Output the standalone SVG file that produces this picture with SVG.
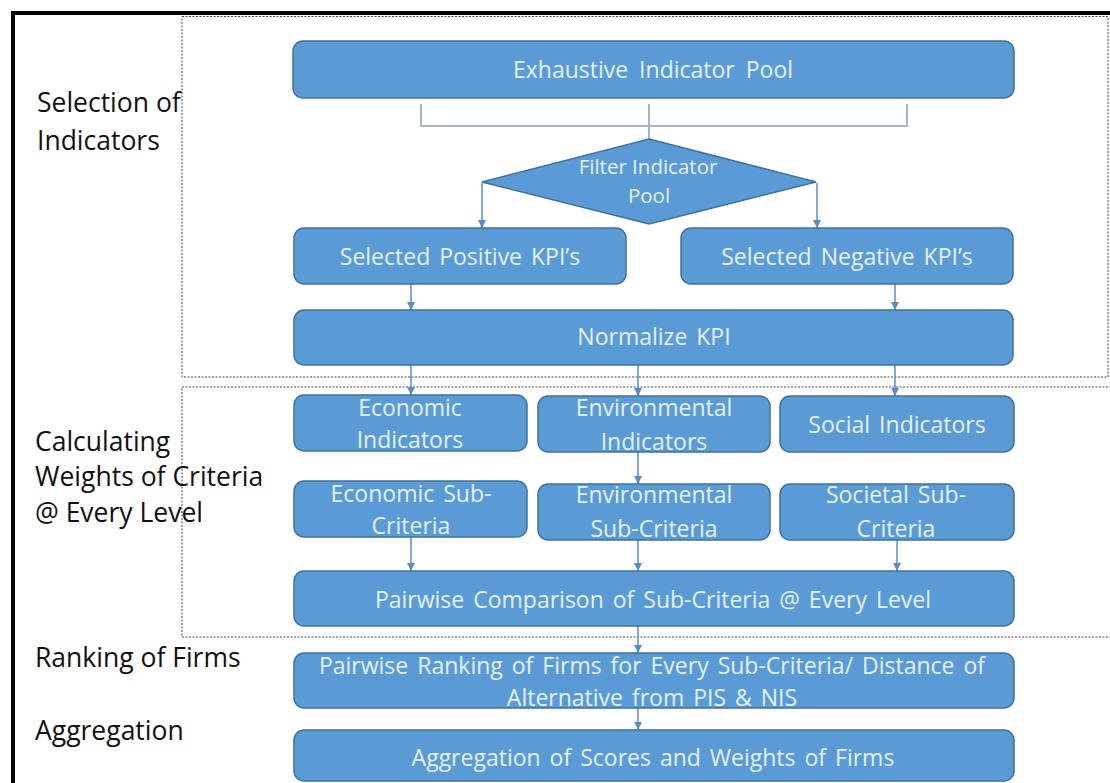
<svg xmlns="http://www.w3.org/2000/svg" width="1110" height="783" viewBox="0 0 1110 783">
<style>
.box{fill:#5b9bd5;stroke:#41719c;stroke-width:1.5}
.bt{font-family:"Open Sans","Liberation Sans",sans-serif;font-size:23px;fill:#e3f1f9;text-anchor:middle;word-spacing:3px}
.lab{font-family:"Open Sans","Liberation Sans",sans-serif;font-size:26.5px;fill:#111}
.con{stroke:#5a8bc4;stroke-width:1.5;fill:none}
.brk{stroke:#a3b5c8;stroke-width:2;fill:none}
.dash{fill:none;stroke:#444;stroke-width:1;stroke-dasharray:2 1.5}
</style>
<defs>
<marker id="ah" markerWidth="10" markerHeight="10" refX="8" refY="5" orient="auto" markerUnits="userSpaceOnUse">
<path d="M0,1 L8,5 L0,9 Z" fill="#5a8bc4"/>
</marker>
</defs>
<rect width="1110" height="783" fill="#fff"/>
<g id="frame">
<line x1="11" y1="13" x2="1110" y2="13" stroke="#000" stroke-width="4"/>
<line x1="13" y1="11" x2="13" y2="783" stroke="#000" stroke-width="4"/>
<rect class="dash" x="182" y="16.5" width="926" height="360.5"/>
<rect class="dash" x="182" y="387" width="940" height="250"/>
</g>
<g id="labels">
<text class="lab" x="37" y="112">Selection of</text>
<text class="lab" x="37" y="150">Indicators</text>
<text class="lab" x="35" y="451">Calculating</text>
<text class="lab" x="35" y="486">Weights of Criteria</text>
<text class="lab" x="35" y="522">@ Every Level</text>
<text class="lab" x="35" y="667">Ranking of Firms</text>
<text class="lab" x="35" y="740">Aggregation</text>
</g>
<g id="connectors">
<polyline class="brk" points="421,104 421,126 907,126 907,104"/>
<line class="brk" x1="649" y1="104" x2="649" y2="139"/>
<line class="con" x1="482" y1="183" x2="482" y2="228" marker-end="url(#ah)"/>
<line class="con" x1="817" y1="183" x2="817" y2="228" marker-end="url(#ah)"/>
<line class="con" x1="411" y1="284" x2="411" y2="310" marker-end="url(#ah)"/>
<line class="con" x1="895" y1="284" x2="895" y2="310" marker-end="url(#ah)"/>
<line class="con" x1="411" y1="365" x2="411" y2="395" marker-end="url(#ah)"/>
<line class="con" x1="638" y1="365" x2="638" y2="396" marker-end="url(#ah)"/>
<line class="con" x1="895" y1="365" x2="895" y2="396" marker-end="url(#ah)"/>
<line class="con" x1="638" y1="452" x2="638" y2="484" marker-end="url(#ah)"/>
<line class="con" x1="411" y1="537" x2="411" y2="571" marker-end="url(#ah)"/>
<line class="con" x1="638" y1="540" x2="638" y2="571" marker-end="url(#ah)"/>
<line class="con" x1="897" y1="540" x2="897" y2="571" marker-end="url(#ah)"/>
<line class="con" x1="638" y1="626" x2="638" y2="653" marker-end="url(#ah)"/>
<line class="con" x1="638" y1="708" x2="638" y2="730" marker-end="url(#ah)"/>
</g>
<g id="pool">
<rect class="box" x="293" y="41" width="721" height="57" rx="10"/>
<text class="bt" x="653" y="78" style="word-spacing:5px">Exhaustive Indicator Pool</text>
</g>
<g id="filter">
<polygon class="box" points="649,139 816,182 649,224 482,182"/>
<text class="bt" x="648" y="174" style="font-size:20.5px;word-spacing:0">Filter Indicator</text>
<text class="bt" x="649" y="203" style="font-size:20.5px">Pool</text>
</g>
<g id="positive">
<rect class="box" x="294" y="228" width="332" height="56" rx="10"/>
<text class="bt" x="460" y="265">Selected Positive KPI’s</text>
</g>
<g id="negative">
<rect class="box" x="681" y="228" width="332" height="56" rx="10"/>
<text class="bt" x="847" y="265">Selected Negative KPI’s</text>
</g>
<g id="normalize">
<rect class="box" x="294" y="310" width="719" height="55" rx="10"/>
<text class="bt" x="654" y="345">Normalize KPI</text>
</g>
<g id="economic">
<rect class="box" x="294" y="395" width="233" height="56" rx="10"/>
<text class="bt" x="410" y="416">Economic</text>
<text class="bt" x="410" y="448">Indicators</text>
</g>
<g id="environmental">
<rect class="box" x="538" y="396" width="232" height="56" rx="10"/>
<text class="bt" x="654" y="416">Environmental</text>
<text class="bt" x="654" y="450">Indicators</text>
</g>
<g id="social">
<rect class="box" x="780" y="396" width="234" height="56" rx="10"/>
<text class="bt" x="897" y="433">Social Indicators</text>
</g>
<g id="econsub">
<rect class="box" x="294" y="481" width="233" height="56" rx="10"/>
<text class="bt" x="411" y="502">Economic Sub-</text>
<text class="bt" x="411" y="534">Criteria</text>
</g>
<g id="envsub">
<rect class="box" x="538" y="484" width="232" height="56" rx="10"/>
<text class="bt" x="654" y="503">Environmental</text>
<text class="bt" x="654" y="537">Sub-Criteria</text>
</g>
<g id="socsub">
<rect class="box" x="780" y="484" width="234" height="56" rx="10"/>
<text class="bt" x="896" y="503">Societal Sub-</text>
<text class="bt" x="896" y="537">Criteria</text>
</g>
<g id="pairwise">
<rect class="box" x="294" y="571" width="720" height="55" rx="10"/>
<text class="bt" x="653" y="608">Pairwise Comparison of Sub-Criteria @ Every Level</text>
</g>
<g id="ranking">
<rect class="box" x="294" y="653" width="720" height="55" rx="10"/>
<text class="bt" x="652" y="674">Pairwise Ranking of Firms for Every Sub-Criteria/ Distance of</text>
<text class="bt" x="652" y="706">Alternative from PIS &amp; NIS</text>
</g>
<g id="aggregation">
<rect class="box" x="294" y="730" width="720" height="51" rx="10"/>
<text class="bt" x="653" y="766">Aggregation of Scores and Weights of Firms</text>
</g>
</svg>
